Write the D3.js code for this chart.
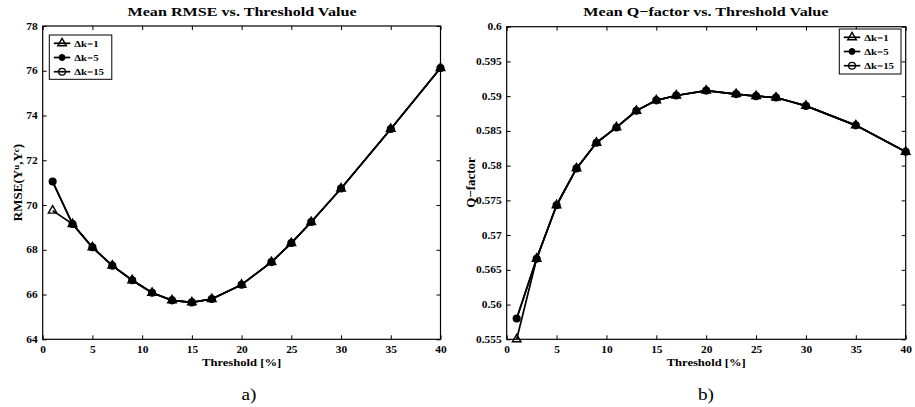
<!DOCTYPE html>
<html>
<head>
<meta charset="utf-8">
<script src="https://cdn.jsdelivr.net/npm/d3@7"></script>
<style>
  html, body { margin: 0; padding: 0; background: #fff; }
  svg { display: block; }
  text { font-family: "Liberation Serif", "Times New Roman", serif; fill: #000; }
</style>
</head>
<body>
<svg id="chart" width="915" height="407"></svg>
<script>
// ---------- data ----------
const thresholds = [1, 3, 5, 7, 9, 11, 13, 15, 17, 20, 23, 25, 27, 30, 35, 40];

const rmseDk1  = [69.75, 69.15, 68.11, 67.29, 66.64, 66.08, 65.74, 65.65, 65.80, 66.44, 67.45, 68.30, 69.24, 70.74, 73.40, 76.12];
const rmseDk5  = [71.05, 69.15, 68.11, 67.29, 66.64, 66.08, 65.74, 65.65, 65.80, 66.44, 67.45, 68.30, 69.24, 70.74, 73.40, 76.12];
const rmseDk15 = [71.05, 69.15, 68.11, 67.29, 66.64, 66.08, 65.74, 65.65, 65.80, 66.44, 67.45, 68.30, 69.24, 70.74, 73.40, 76.12];

const qDk1  = [0.5550, 0.5666, 0.5743, 0.5796, 0.5833, 0.5855, 0.5879, 0.5894, 0.5901, 0.5908, 0.5903, 0.5900, 0.5898, 0.5886, 0.5858, 0.5820];
const qDk5  = [0.5580, 0.5666, 0.5743, 0.5796, 0.5833, 0.5855, 0.5879, 0.5894, 0.5901, 0.5908, 0.5903, 0.5900, 0.5898, 0.5886, 0.5858, 0.5820];
const qDk15 = [0.5580, 0.5666, 0.5743, 0.5796, 0.5833, 0.5855, 0.5879, 0.5894, 0.5901, 0.5908, 0.5903, 0.5900, 0.5898, 0.5886, 0.5858, 0.5820];

const seriesNames = ["\u0394k=1", "\u0394k=5", "\u0394k=15"];
const xTicks = [0, 5, 10, 15, 20, 25, 30, 35, 40];
const rmseTicks = [64, 66, 68, 70, 72, 74, 76, 78];
const qTicks = [0.555, 0.56, 0.565, 0.57, 0.575, 0.58, 0.585, 0.59, 0.595, 0.6];
const qTickLabels = ["0.555", "0.56", "0.565", "0.57", "0.575", "0.58", "0.585", "0.59", "0.595", "0.6"];
const titles = ["Mean RMSE vs. Threshold Value", "Mean Q\u2212factor vs. Threshold Value"];
const xLabel = "Threshold [%]";
const panelTags = ["a)", "b)"];

// ---------- drawing ----------
const FONT = "'Liberation Serif', 'Times New Roman', serif";
const svg = d3.select("#chart");
svg.append("rect").attr("width", 915).attr("height", 407).attr("fill", "#fff");

const SX = 1.2;
const markerTypes = ["tri", "dot", "ring"];

function drawMarker(g, type, cx, cy) {
  if (type === "tri") {
    g.append("path")
      .attr("d", d3.symbol().type(d3.symbolTriangle).size(32)())
      .attr("transform", `translate(${cx},${cy})`)
      .attr("fill", "none").attr("stroke", "#000").attr("stroke-width", 1.4);
  } else if (type === "dot") {
    g.append("circle").attr("cx", cx).attr("cy", cy).attr("r", 3)
      .attr("fill", "#000").attr("stroke", "#000").attr("stroke-width", 1);
  } else {
    g.append("circle").attr("cx", cx).attr("cy", cy).attr("r", 3.4)
      .attr("fill", "none").attr("stroke", "#000").attr("stroke-width", 1.3);
  }
}

function drawPanel(cfg) {
  const x = d3.scaleLinear().domain([0, 40]).range([cfg.left, cfg.right]);
  const y = d3.scaleLinear().domain(cfg.yDomain).range([cfg.bottom, cfg.top]);
  const g = svg.append("g");

  // axes (inward ticks, MATLAB style)
  const bx = g.append("g").attr("transform", `translate(0,${cfg.bottom})`)
    .call(d3.axisBottom(x).tickValues(xTicks).tickSizeInner(-4).tickSizeOuter(0).tickPadding(7));
  const tx = g.append("g").attr("transform", `translate(0,${cfg.top})`)
    .call(d3.axisTop(x).tickValues(xTicks).tickSizeInner(-4).tickSizeOuter(0).tickFormat(""));
  const ly = g.append("g").attr("transform", `translate(${cfg.left},0)`)
    .call(d3.axisLeft(y).tickValues(cfg.yTicks).tickSizeInner(-4).tickSizeOuter(0)
      .tickFormat((d, i) => cfg.yLabels[i]));
  const ry = g.append("g").attr("transform", `translate(${cfg.right},0)`)
    .call(d3.axisRight(y).tickValues(cfg.yTicks).tickSizeInner(-4).tickSizeOuter(0).tickFormat(""));

  [bx, tx, ly, ry].forEach(a => {
    a.attr("font-family", FONT);
    a.select(".domain").remove();
    a.selectAll(".tick line").attr("stroke", "#000").attr("stroke-width", 1);
  });
  bx.selectAll(".tick text")
    .attr("font-family", FONT)
    .attr("font-size", 9.5).attr("font-weight", "bold")
    .attr("transform", `scale(${SX},1)`);
  ly.selectAll(".tick text")
    .attr("x", null)
    .attr("font-family", FONT)
    .attr("font-size", 9.5).attr("font-weight", "bold")
    .attr("transform", `translate(-5,0) scale(${SX},1)`);

  // box
  g.append("rect")
    .attr("x", cfg.left).attr("y", cfg.top)
    .attr("width", cfg.right - cfg.left).attr("height", cfg.bottom - cfg.top)
    .attr("fill", "none").attr("stroke", "#000").attr("stroke-width", 1.2);

  // series
  const line = d3.line().x(d => x(d[0])).y(d => y(d[1]));
  cfg.series.forEach((vals, si) => {
    const pts = thresholds.map((t, i) => [t, vals[i]]);
    g.append("path").datum(pts).attr("d", line)
      .attr("fill", "none").attr("stroke", "#000").attr("stroke-width", 1.7)
      .attr("stroke-linejoin", "round");
    pts.forEach(p => drawMarker(g, markerTypes[si], x(p[0]), y(p[1])));
  });

  // title
  g.append("text")
    .attr("x", (cfg.titleX0 + cfg.titleX1) / 2).attr("y", 16)
    .attr("text-anchor", "middle").attr("font-weight", "bold").attr("font-size", 13.5)
    .attr("textLength", cfg.titleX1 - cfg.titleX0).attr("lengthAdjust", "spacingAndGlyphs")
    .text(cfg.title);

  // x label
  g.append("text")
    .attr("transform", `translate(${(cfg.left + cfg.right) / 2},365.5) scale(${SX},1)`)
    .attr("text-anchor", "middle").attr("font-weight", "bold").attr("font-size", 10.5)
    .text(xLabel);

  // panel tag
  g.append("text")
    .attr("transform", `translate(${cfg.tagX},399.5) scale(${SX},1)`)
    .attr("text-anchor", "middle").attr("font-size", 16)
    .text(cfg.tag);

  // y label
  const yl = g.append("text")
    .attr("transform", `translate(${cfg.yLabelX},182.5) rotate(-90)`)
    .attr("text-anchor", "middle").attr("font-weight", "bold").attr("font-size", 13);
  cfg.yLabelParts.forEach(p => {
    const ts = yl.append("tspan").text(p.t);
    if (p.sub) ts.attr("font-size", 9).attr("dy", p.dy);
    else if (p.dy) ts.attr("dy", p.dy);
  });

  // legend
  const L = cfg.legend;
  g.append("rect").attr("x", L.x).attr("y", L.y).attr("width", L.w).attr("height", L.h)
    .attr("fill", "#fff").attr("stroke", "#000").attr("stroke-width", 1);
  seriesNames.forEach((name, i) => {
    const ry0 = L.y + 8.3 + i * 14.2;
    g.append("line").attr("x1", L.x + 4.5).attr("x2", L.x + 21).attr("y1", ry0).attr("y2", ry0)
      .attr("stroke", "#000").attr("stroke-width", 1.7);
    drawMarker(g, markerTypes[i], L.x + 12.75, ry0);
    g.append("text")
      .attr("transform", `translate(${L.x + 25},${ry0 + 3.2}) scale(${SX},1)`)
      .attr("font-weight", "bold").attr("font-size", 9)
      .text(name);
  });
}

drawPanel({
  left: 42.7, right: 440.5, top: 26, bottom: 339.3,
  yDomain: [64, 78], yTicks: rmseTicks, yLabels: rmseTicks.map(String),
  series: [rmseDk1, rmseDk5, rmseDk15],
  title: titles[0], titleX0: 127.5, titleX1: 356.7,
  tag: panelTags[0], tagX: 249,
  yLabelX: 21.7,
  yLabelParts: [
    {t: "RMSE(Y"}, {t: "u", sub: true, dy: -3}, {t: ",Y", dy: 3},
    {t: "c", sub: true, dy: -3}, {t: ")", dy: 3}
  ],
  legend: {x: 49.3, y: 35, w: 62.5, h: 44.3}
});

drawPanel({
  left: 506.7, right: 905.7, top: 26.7, bottom: 339.3,
  yDomain: [0.555, 0.6], yTicks: qTicks, yLabels: qTickLabels,
  series: [qDk1, qDk5, qDk15],
  title: titles[1], titleX0: 583.3, titleX1: 828.3,
  tag: panelTags[1], tagX: 706,
  yLabelX: 474.5,
  yLabelParts: [{t: "Q\u2212factor"}],
  legend: {x: 839.3, y: 29, w: 61.7, h: 45}
});
</script>
</body>
</html>
